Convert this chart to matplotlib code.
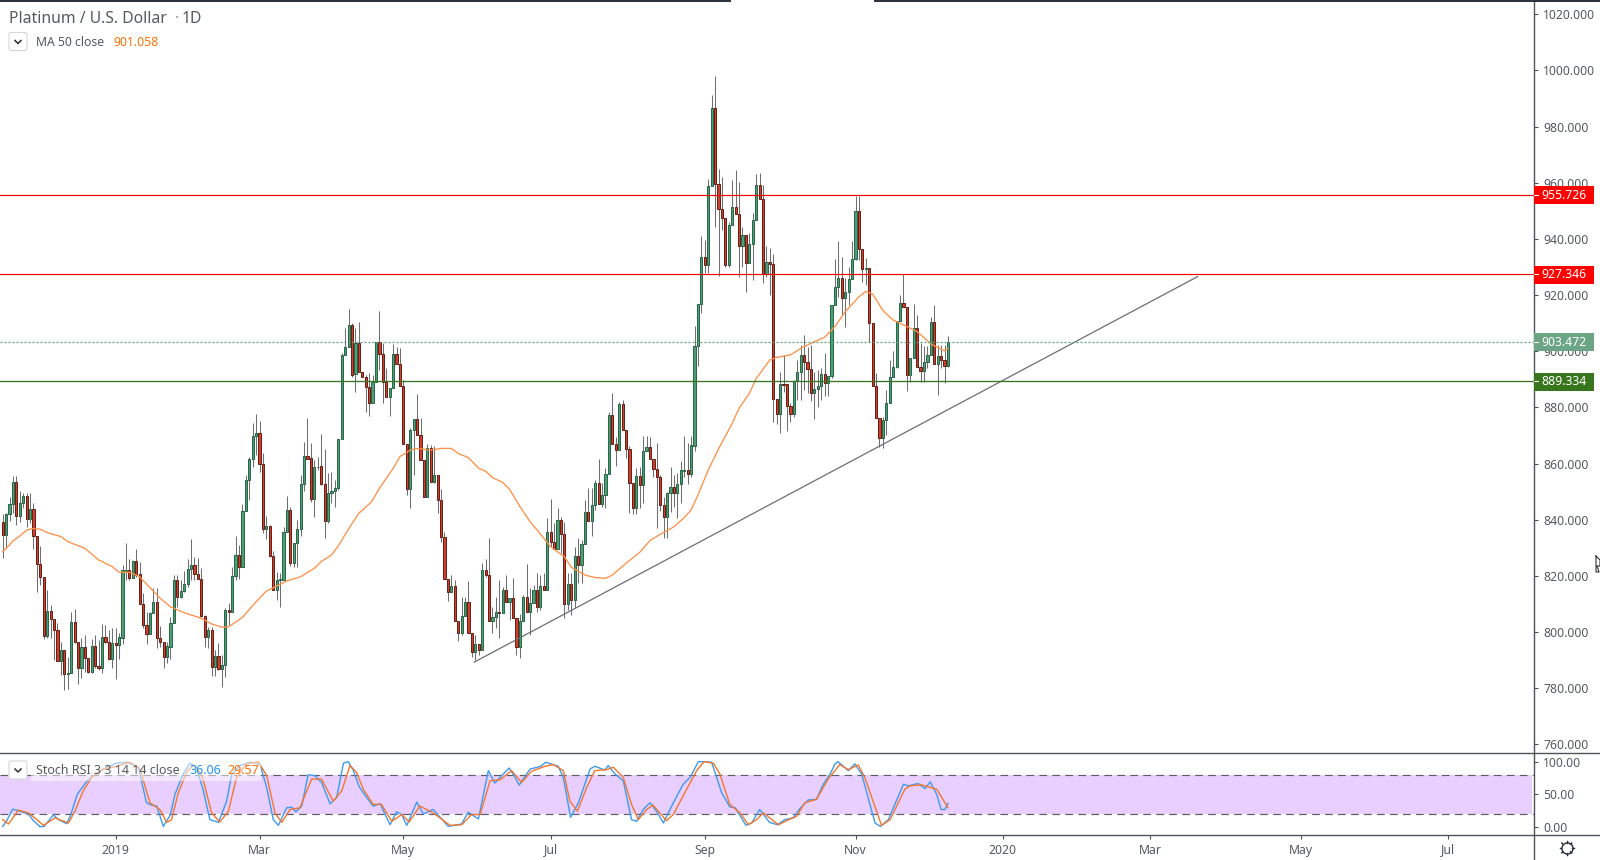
#!/usr/bin/env python3
"""Platinum / U.S. Dollar daily candles with MA 50 and a Stoch RSI pane."""
import matplotlib
matplotlib.use("Agg")
import matplotlib.pyplot as plt
from matplotlib.patches import Rectangle, FancyBboxPatch

plt.rcParams["font.family"] = ["Noto Sans", "DejaVu Sans"]

# daily candles, index 0 is the first bar at the left edge
opens = [
    839.1,834.7,841.9,845.5,853.3,841.5,845.8,848.3,840.2,843.7,
    834.1,824.3,819.5,798.7,807.4,804.8,800.6,789.8,793.5,784.9,
    785.3,803.5,796.3,787.1,794.6,790.6,785.9,794.9,788.0,787.1,
    798.1,796.6,790.5,796.0,795.5,798.0,821.4,822.0,819.4,825.2,
    820.6,809.9,802.4,799.4,806.7,810.6,797.8,796.6,791.0,794.8,
    803.1,818.4,812.4,814.5,817.0,822.3,823.8,820.5,818.8,805.8,
    798.4,800.6,787.4,791.6,786.7,788.1,807.7,807.0,819.8,827.3,
    823.3,843.0,854.0,861.5,869.7,870.8,859.7,836.6,837.6,827.0,
    814.8,818.4,818.7,835.5,843.4,824.7,831.6,836.6,852.6,862.6,
    861.9,847.5,858.7,859.0,852.6,839.7,849.4,850.2,851.2,868.6,
    898.6,901.4,909.2,891.9,902.8,892.7,891.0,887.4,881.5,889.1,
    903.2,898.9,889.1,883.8,886.8,898.9,895.3,887.8,866.8,851.1,
    871.8,875.8,870.0,861.4,848.2,865.4,853.3,855.8,846.9,834.0,
    818.8,814.4,816.3,803.8,799.8,805.6,810.6,799.5,793.0,795.6,
    793.5,822.0,820.2,804.0,805.2,807.0,806.7,814.9,810.6,812.0,
    804.9,794.8,803.8,812.5,807.3,810.2,814.9,809.0,816.3,814.8,
    835.5,832.2,829.7,839.8,834.8,810.1,817.0,811.5,827.0,824.0,
    831.2,842.6,839.7,845.1,853.0,845.7,848.7,856.2,877.2,867.1,
    865.0,881.1,871.8,865.1,853.2,844.3,855.5,852.3,864.4,865.8,
    861.5,857.9,855.1,845.4,841.1,849.4,851.5,849.6,852.9,857.5,
    857.6,856.4,866.4,901.7,916.7,933.4,930.6,958.7,986.5,959.4,
    950.5,947.3,930.6,944.8,951.3,948.8,937.6,941.3,931.5,938.3,
    946.6,959.1,954.1,927.5,931.7,931.0,882.9,877.5,888.3,888.2,
    880.6,877.7,889.5,892.5,898.5,896.3,893.6,885.2,886.4,887.6,
    891.8,888.6,891.1,916.4,922.8,926.0,918.8,921.0,925.6,932.7,
    949.8,936.3,929.2,929.5,910.0,887.5,876.1,869.0,875.4,881.4,
    890.7,894.3,910.7,917.1,915.6,891.4,897.5,908.2,894.5,893.1,
    896.0,898.5,910.3,895.3,898.2,896.8,894.9,
]
closes = [
    834.7,841.9,845.5,853.3,841.5,845.8,848.3,840.2,843.7,834.1,
    824.3,819.5,798.7,807.4,804.8,800.6,789.8,793.5,784.9,785.3,
    803.5,796.3,787.1,794.6,790.6,785.9,794.9,788.0,787.1,798.1,
    796.6,790.5,796.1,795.5,798.1,822.0,822.0,819.4,825.2,820.3,
    809.9,802.4,799.4,806.7,810.6,797.8,796.6,791.0,794.9,803.1,
    818.4,812.4,814.5,817.0,822.3,823.8,820.5,818.8,805.8,798.4,
    800.6,787.4,791.6,786.7,788.1,807.7,807.0,819.8,827.3,823.3,
    843.0,854.0,861.5,869.7,870.8,859.7,836.6,837.6,827.0,814.8,
    818.4,818.8,835.5,843.4,824.7,831.6,836.6,852.6,862.6,861.8,
    847.5,858.7,858.9,852.6,839.7,849.4,850.2,851.2,868.6,898.6,
    901.4,909.2,891.7,902.8,892.7,891.0,887.4,881.5,889.1,903.2,
    898.9,889.1,883.8,886.8,898.9,895.3,887.8,866.8,851.1,871.8,
    875.8,870.0,861.4,848.2,865.4,853.3,855.8,846.9,834.0,818.8,
    814.4,816.3,803.8,799.8,805.6,810.6,799.5,793.0,795.6,793.5,
    822.0,820.2,804.0,805.2,807.0,806.7,814.9,810.6,812.0,804.9,
    794.8,803.8,812.5,807.3,810.2,814.9,809.0,816.3,814.8,835.5,
    832.2,829.7,839.8,834.8,810.1,817.0,811.5,827.0,824.0,831.2,
    842.6,839.7,845.1,853.0,845.7,848.7,856.2,877.2,867.1,865.0,
    881.1,871.8,865.1,853.2,844.3,855.5,852.3,864.4,865.8,861.5,
    858.0,855.1,845.4,841.1,849.4,851.5,849.6,852.9,857.6,857.7,
    856.4,866.5,901.7,916.7,933.4,930.6,958.7,986.5,959.4,950.5,
    947.3,930.6,944.8,951.3,948.8,937.6,941.3,931.5,938.3,946.6,
    959.1,954.1,927.5,931.7,931.0,882.9,877.5,888.2,888.1,880.6,
    877.7,889.5,892.5,898.5,896.3,893.6,885.2,886.4,887.6,891.8,
    888.6,891.1,916.4,922.8,926.0,918.8,921.0,925.6,932.7,949.8,
    936.3,929.2,929.5,910.0,887.5,876.1,869.0,875.4,881.4,890.7,
    894.3,910.7,917.1,915.6,891.4,897.5,908.2,894.5,893.1,896.0,
    898.5,910.3,895.3,898.2,896.8,894.9,903.47,
]
highs = [
    842.0,842.3,848.0,855.6,855.6,850.2,849.6,849.4,849.4,845.8,
    834.1,830.6,819.5,815.0,809.6,804.8,803.1,796.3,793.5,791.1,
    807.1,808.2,796.3,797.8,799.0,790.6,797.4,799.0,797.2,802.8,
    802.5,800.7,801.3,801.3,799.6,823.9,831.6,825.9,825.7,829.5,
    825.1,814.0,807.3,807.3,815.6,815.6,802.3,796.6,796.6,805.5,
    820.3,820.3,818.5,821.7,825.9,833.0,826.9,826.3,822.7,806.1,
    801.9,801.9,793.6,796.0,791.8,808.4,810.2,823.3,834.2,831.0,
    845.6,855.9,862.5,874.3,877.5,875.2,863.9,841.3,838.1,829.0,
    821.5,820.9,837.5,848.5,844.7,831.6,840.0,855.9,867.6,876.2,
    867.2,861.3,862.5,870.5,865.2,856.5,857.1,854.2,868.6,899.5,
    908.4,915.1,910.0,908.2,910.3,892.7,891.5,892.1,891.5,903.4,
    914.3,902.8,893.9,886.8,902.5,901.4,901.0,889.8,866.8,872.6,
    875.8,884.8,876.1,861.4,867.0,866.6,866.2,855.8,850.8,835.5,
    818.8,820.3,818.6,803.8,812.6,812.6,818.2,799.5,799.0,795.6,
    824.5,825.9,833.5,809.0,812.6,818.5,816.2,820.3,812.0,819.1,
    804.9,806.3,813.2,824.2,815.6,816.8,820.9,820.3,820.9,840.5,
    847.3,838.7,844.1,841.1,839.3,820.9,820.9,830.4,833.4,832.8,
    847.0,851.2,851.2,854.2,861.6,853.0,858.3,878.5,885.0,869.6,
    882.1,882.6,871.8,866.3,853.2,858.3,858.9,869.8,869.8,869.6,
    861.5,867.2,855.9,848.2,850.0,858.9,855.9,856.5,860.9,869.8,
    867.2,869.8,909.0,916.7,941.0,939.6,961.3,991.3,998.0,964.9,
    961.9,947.3,946.1,961.0,964.6,960.3,944.4,941.3,942.2,949.1,
    963.1,963.4,959.2,937.5,936.7,934.6,882.9,892.7,898.7,888.2,
    881.4,889.8,896.9,902.2,905.8,901.4,902.2,892.7,893.3,893.9,
    899.3,891.1,916.4,932.7,939.3,933.7,926.0,930.1,939.3,955.3,
    955.3,936.3,933.1,929.5,910.0,892.1,876.1,876.7,886.2,896.9,
    900.2,910.7,920.0,927.5,915.6,897.5,916.8,912.9,902.8,902.0,
    902.0,912.1,916.5,902.2,902.2,902.2,905.5,
]
lows = [
    826.5,829.8,839.7,842.3,838.1,839.3,844.2,837.5,839.0,829.7,
    814.4,816.8,797.5,798.0,798.0,790.1,789.8,784.7,779.4,779.6,
    785.3,796.0,781.5,783.5,785.9,785.3,785.3,787.1,786.5,785.3,
    796.0,790.1,787.1,783.4,790.5,795.8,818.6,818.6,819.1,819.7,
    809.9,801.3,795.8,799.3,806.7,794.2,794.8,787.3,788.9,790.3,
    803.1,809.0,812.0,814.4,816.2,818.5,818.5,818.8,805.5,794.8,
    794.2,784.4,784.4,786.5,780.3,784.1,802.5,807.0,818.5,818.9,
    823.3,843.0,847.0,858.9,863.1,857.1,835.4,833.0,826.9,814.8,
    811.4,809.0,818.7,835.5,823.5,823.3,823.3,834.2,850.4,861.8,
    846.3,841.1,857.7,852.4,833.6,839.0,845.8,844.7,850.6,868.6,
    898.6,901.4,890.7,885.6,892.7,890.7,878.5,877.1,881.5,889.1,
    893.3,881.5,883.8,877.1,886.8,895.3,887.8,866.8,848.8,844.1,
    855.9,870.0,861.4,848.0,848.2,853.3,853.0,842.3,832.2,818.8,
    811.2,814.4,803.8,796.9,799.0,805.6,799.5,791.2,790.0,791.8,
    793.5,819.7,804.0,799.5,801.3,797.8,806.7,810.6,804.3,804.9,
    791.8,790.9,803.8,807.3,799.0,810.2,807.3,807.9,814.8,814.8,
    830.4,829.7,829.7,828.0,804.9,807.9,806.1,808.5,817.4,817.6,
    831.2,839.7,834.2,843.5,845.7,844.6,844.1,856.2,867.1,859.1,
    864.8,871.8,862.1,842.3,842.0,842.0,844.1,846.1,864.4,861.5,
    855.1,836.9,843.1,833.4,833.4,842.9,844.6,840.5,846.1,855.3,
    852.9,855.1,864.5,894.9,913.5,927.8,927.8,958.7,944.1,926.9,
    943.2,930.1,930.1,944.8,948.8,926.3,930.1,921.2,931.5,925.4,
    946.6,954.1,924.2,926.6,920.0,874.9,874.1,870.8,885.6,871.7,
    874.9,876.7,882.6,882.6,886.2,885.0,882.4,875.9,880.3,882.6,
    884.1,884.1,890.3,916.4,919.4,912.9,908.8,916.5,925.6,932.5,
    932.5,924.8,923.6,903.4,887.5,876.1,866.0,865.4,870.2,881.4,
    890.7,893.9,910.7,915.6,886.0,889.2,897.5,894.5,889.2,889.2,
    894.0,898.5,895.3,884.4,893.9,888.6,894.3,
]

ma_idx = [0,2,3,5,7,9,11,13,17,19,24,28,32,34,37,40,46,49,53,58,61,64,66,70,74,77,83,87,91,93,96,
          98,101.4,104,107.7,110,114,116,119,121,125,128,131,133,136,139,141,143,146,148,151,154,157,
          160,164,166,170,173,176,178,182,186,189,192,196,199,201,203,206,209,213,215,218,220,224,226,
          230,233,236,240,243,246,250,252,254,257,260,264,267,271,275,276]
ma_val = [828.6,831.0,832.5,834.2,836.3,836.9,836.6,835.4,834.0,832.2,829.8,825.7,823.3,821.3,821.3,
          819.7,812.0,809.0,806.9,804.9,802.9,801.7,801.9,805.2,810.8,814.6,818.2,819.7,822.7,825.1,827.4,
          830.7,837.5,842.3,846.4,851.2,858.3,862.5,864.8,865.4,864.8,865.4,865.4,863.6,862.1,858.3,857.3,
          855.0,853.3,850.8,844.7,839.3,834.9,830.4,826.8,823.1,820.3,819.4,819.1,820.3,824.5,828.4,832.6,
          834.8,837.5,840.8,843.5,848.8,857.7,865.2,874.3,879.7,885.0,890.3,896.9,897.8,898.7,901.0,902.8,
          905.0,908.8,914.1,919.4,921.3,920.4,914.5,911.1,908.8,907.0,902.6,900.1,901.06]

# Stoch RSI, blue %K and orange %D
k_idx = [0,1.2,2.9,5.1,7.5,9,10.9,12.1,14.8,16.3,18.7,19.9,21.8,24.7,27.4,30.4,33.3,36.2,39.6,42,43.5,45,
         46.9,49,50.3,52.7,54.7,56.6,58.6,60.5,63,65.4,66.9,69.3,72.2,75.1,77.1,79,80.5,82.9,84.4,85.6,87.3,
         89.2,91.2,93.1,95.6,97.5,99.5,100.9,102.4,104.1,106.3,108.2,110.2,113.1,115,116.5,118,120.9,122.8,
         125.7,130.1,134,135.9,138.9,141.8,143.7,145.2,147.9,149.6,150.8,154,156.9,158.6,162.2,163.7,165.8,
         168.1,171.5,172.9,175.8,176.8,178.8,181.2,183.6,185.1,187,189,190.9,192.9,195.8,198.7,200.7,203.1,
         204.8,207,209.9,212.3,213.9,217,218.7,221,223.9,226.2,228.4,230.8,232.8,235.2,237.6,239.6,241.5,243,
         243.9,246.9,248.8,250.8,254.7,256.3,258.6,263,264.4,267.3,269.3,270.8,272.7,274,275.1,276]
k_val = [0.8,9.6,27.2,24.1,20,9.6,0.3,0.8,18.4,11.2,5,18.9,50,70.7,82.1,91.4,97.6,99.1,91.4,37,33.4,31.9,
         0.8,18.9,50,81,97.6,91.4,55.2,11.2,7,39.6,81,94,99.1,96.5,60.3,11.2,2.4,29.3,30.3,23.1,31.9,
         80,78.4,68.1,35.5,44.8,97.6,100,86.2,61.4,44.8,31.9,35.5,3.4,23.1,18.9,2.4,38.1,20,
         26.7,0.8,4.5,22.6,12.2,86.2,67.1,75.9,90.3,75.9,64,88.8,92.4,99.1,92.9,75.9,14.8,
         37,88.8,92.9,87.2,94,81,70.7,11.2,8.6,26.7,37,24.1,6,37,65.5,75.9,100,
         100,99.1,52.6,30.8,29.3,2.4,6,26.7,7,3.4,11.2,13.8,28.3,41.2,42.2,65.5,80,96.5,
         100,86.2,96.5,81,6,0.8,11.2,65.5,62.9,66.5,58.8,69.1,50,26.7,26.7,36.06]
d_idx = [0,1.7,4.6,7.5,9.4,11.9,15.3,19.2,21.1,23.5,26,29.4,33.3,37.2,40.1,43,45.9,47.9,49.3,51.3,53.7,55.7,
         58.1,61,63.4,65.9,68.3,71.2,74.6,77.1,79.5,81.5,83.9,86.8,90.2,93.1,96.5,99,101.4,103.3,105.3,108.2,
         110.6,113.6,116.5,118.7,121.8,125.7,130.6,134,136.9,139.4,142.3,145.2,148.6,151.5,154.4,158.3,160.8,
         163.7,165.6,167.8,170.5,172.9,176.3,178.3,181.2,183.6,185.6,188,189.9,193.8,195.8,199.7,202.6,204.8,
         207.5,209.4,212.3,215.3,217.7,220.1,222.1,226.5,228.9,231.8,234.2,237.6,241,244.4,246.9,249.8,251.7,
         256.6,259.1,263.4,264.9,268.3,272.7,276]
d_val = [11.2,4.5,25.7,21.5,13.8,2.4,13.8,6,24.1,55.2,75.9,88.8,92.9,99.1,88.8,37,26.7,7,11.2,52.6,83.6,95,
         81,21.5,7.6,24.1,75.9,96.5,100,78.4,21.5,7,26.7,29.3,73.3,73.3,39.6,55.2,94,83.6,57.7,34.5,
         34.5,8.6,18.9,7.6,31.9,21.5,2.4,3.4,18.9,18.9,70.7,72.2,86.2,68.1,85.2,92.9,95.5,
         86.2,39.6,24.1,60.3,86.2,87.7,91.4,75.9,34.5,11.2,26.7,33.4,9.6,18.9,57.7,86.2,100,
         97.6,81,34.5,21.5,3.4,11.2,21.5,3.4,9.6,16.4,37,42.2,73.3,95.5,87.7,95,75.9,
         2.4,11.2,57.7,62.9,64.5,57.7,29.57]

# trend line ends and horizontal levels
trend_idx = [137.7, 348.9]
trend_val = [789.3, 926.6]
level_red = [955.726, 927.346]
level_last = 903.472
level_green = 889.334

price_ticks = list(range(760, 1021, 20))
stoch_ticks = [0, 50, 100]
date_idx = [33, 75, 117, 160, 205, 249, 292, 335, 379, 422]
date_labels = ["2019", "Mar", "May", "Jul", "Sep", "Nov", "2020", "Mar", "May", "Jul"]

W, H = 1600, 860
AXIS_X = 1534
PANE_Y = 753.3
BOTTOM_Y = 834.5
GREY = "#555a60"
FRAME = "#50535a"

fig = plt.figure(figsize=(16, 8.6), dpi=100, facecolor="white")
ax = fig.add_axes([0, 1 - PANE_Y / H, AXIS_X / W, PANE_Y / H])
ax2 = fig.add_axes([0, 1 - BOTTOM_Y / H, AXIS_X / W, (BOTTOM_Y - PANE_Y) / H])
xlim = (-0.78, 447.1)

# candles
x = list(range(len(opens)))
up = [c >= o for o, c in zip(opens, closes)]
ax.vlines(x, lows, highs, color="#6f6f6f", lw=0.75, zorder=2)
ax.bar(x, [abs(c - o) for o, c in zip(opens, closes)], bottom=[min(o, c) for o, c in zip(opens, closes)],
       width=0.64, color=["#4f9c76" if u else "#cf3f2e" for u in up],
       edgecolor=["#256647" if u else "#651e14" for u in up], lw=0.7, zorder=3)

ax.plot(ma_idx, ma_val, color="#ff9148", lw=0.95, zorder=4)
ax.plot(trend_idx, trend_val, color="#6d6d75", lw=0.9, zorder=4)
for lv in level_red:
    ax.axhline(lv, color="#f00000", lw=0.85, zorder=5)
ax.axhline(level_last, color="#5f9d7c", lw=0.9, ls=(0, (1.6, 1.6)), zorder=5)
ax.axhline(level_green, color="#3a761f", lw=0.95, zorder=5)

ax.set_xlim(*xlim)
ax.set_ylim(756.82, 1025.09)
ax.yaxis.tick_right()
ax.set_yticks(price_ticks)
ax.set_yticklabels(["%.3f" % t for t in price_ticks])
ax.set_xticks([])

# stoch pane
ax2.axhspan(20, 80, xmax=0.999, color="#e9cfff", lw=0, zorder=1)
for lv in (20, 80):
    ax2.axhline(lv, color="#5f5a66", lw=0.85, ls=(0, (6.5, 4.5)), zorder=2)
ax2.plot(k_idx, k_val, color="#3d9bf0", lw=1.0, zorder=3)
ax2.plot(d_idx, d_val, color="#f4752c", lw=1.0, zorder=4)
ax2.set_xlim(*xlim)
ax2.set_ylim(-11.6, 112.8)
ax2.yaxis.tick_right()
ax2.set_yticks(stoch_ticks)
ax2.set_yticklabels(["%.2f" % t for t in stoch_ticks])
ax2.set_xticks(date_idx)
ax2.set_xticklabels(date_labels)
ax2.get_xticklabels()[0].set_fontweight("bold")
ax2.get_xticklabels()[6].set_fontweight("bold")

for a in (ax, ax2):
    for s in a.spines.values():
        s.set_visible(False)
    a.patch.set_alpha(0)
    a.tick_params(axis="both", length=3, width=0.8, color=FRAME, labelcolor=GREY, labelsize=8.8, pad=3.5)

# frame, labels and buttons go on an overlay in pixels
ov = fig.add_axes([0, 0, 1, 1], zorder=10)
ov.set_xlim(0, W)
ov.set_ylim(H, 0)
ov.axis("off")
ov.plot([AXIS_X, AXIS_X], [0, H], color=FRAME, lw=1.0)
ov.plot([0, W], [PANE_Y, PANE_Y], color=FRAME, lw=1.0)
ov.plot([0, W], [BOTTOM_Y, BOTTOM_Y], color=FRAME, lw=1.0)
ov.plot([0, 730], [0.5, 0.5], color="#2a2e39", lw=1.4)
ov.plot([875, W], [0.5, 0.5], color="#2a2e39", lw=1.4)


def price_tag(value, colour):
    # tag on the price axis, placed through the price scale
    y = ov.transData.inverted().transform(ax.transData.transform((0, value)))[1]
    ov.add_patch(Rectangle((AXIS_X, y - 8.5), 60, 18, color=colour, lw=0, zorder=5))
    ov.plot([AXIS_X, AXIS_X + 4], [y, y], color="white", lw=0.8, zorder=6)
    ov.text(AXIS_X + 30, y + 0.5, "%.3f" % value, color="white", fontsize=8.8, fontweight="bold",
            ha="center", va="center", zorder=6)


price_tag(level_red[0], "#ff0000")
price_tag(level_red[1], "#ff0000")
price_tag(level_last, "#6ba583")
price_tag(level_green, "#38761d")

# legends
ov.text(9, 19, "Platinum / U.S. Dollar", color=GREY, fontsize=11.3, va="center")
ov.text(175, 19, "·", color="#9a9da3", fontsize=11.3, va="center")
ov.text(182, 19, "1D", color=GREY, fontsize=11.3, va="center")


def chevron_button(y0):
    ov.add_patch(FancyBboxPatch((9, y0 + 1), 18, 18, boxstyle="round,pad=0,rounding_size=2",
                                fc="white", ec="#d4d6da", lw=0.8, zorder=6))
    ov.plot([15, 18, 21], [y0 + 9, y0 + 12, y0 + 9], color="#2a2e39", lw=1.1, zorder=7)


chevron_button(31.5)
ov.text(36, 43, "MA 50 close", color=GREY, fontsize=8.8, va="center")
ov.text(113, 43, "901.058", color="#ff6d00", fontsize=8.8, va="center")

ov.add_patch(Rectangle((31, 761), 230, 20, color="white", alpha=0.5, lw=0, zorder=5))
chevron_button(760)
ov.text(36, 771, "Stoch RSI 3 3 14 14 close", color=GREY, fontsize=9.0, va="center", zorder=7)
ov.text(189, 771, "36.06", color="#2196f3", fontsize=9.0, va="center", zorder=7)
ov.text(227, 771, "29.57", color="#ff6d00", fontsize=9.0, va="center", zorder=7)

# settings gear
ov.plot([1566.7], [848], "o", ms=8, mfc="white", mec="#2a2e39", mew=1.0)
for dx, dy in [(0, 7), (0, -7), (7, 0), (-7, 0), (5, 5), (-5, 5), (5, -5), (-5, -5)]:
    ov.plot([1566.7 + dx * 0.75, 1566.7 + dx], [848 + dy * 0.75, 848 + dy], color="#2a2e39", lw=1.0)

# mouse pointer left at the right edge
ov.plot([1596, 1600, 1600, 1597, 1599, 1596, 1596], [556, 560, 566, 566, 572, 572, 556], color="#333333", lw=0.8)

fig.savefig("out.png", dpi=100)
